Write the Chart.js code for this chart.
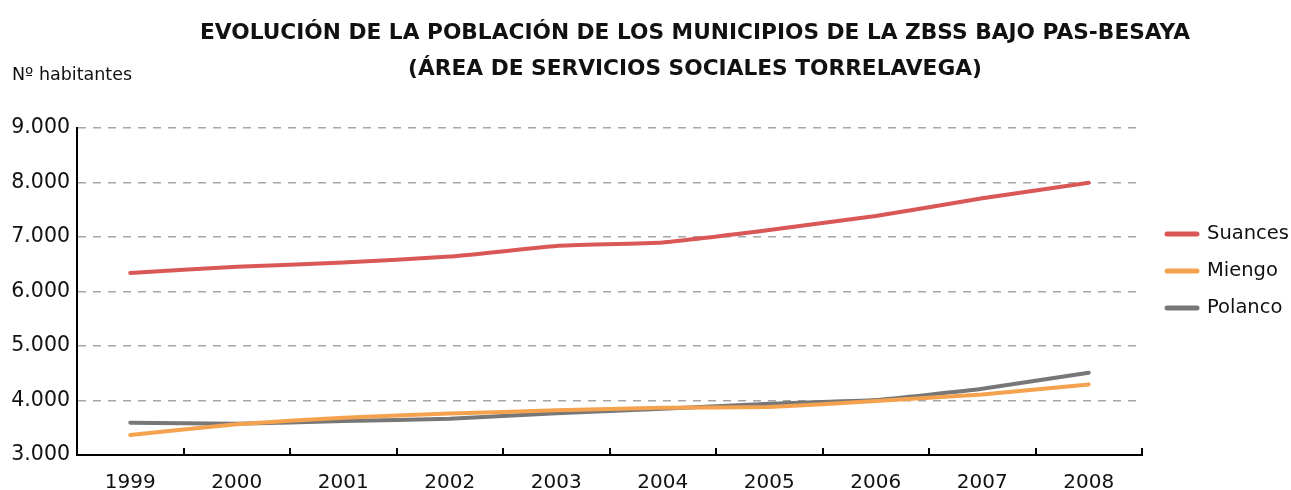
<!DOCTYPE html>
<html lang="es">
<head>
<meta charset="utf-8">
<title>Evolución de la población - ZBSS Bajo Pas-Besaya</title>
<script src="https://cdn.jsdelivr.net/npm/chart.js@4"></script>
<style>
    html, body { margin: 0; padding: 0; background: #fff; }
    #wrap { position: relative; width: 1291px; height: 490px; }
    #titulo {
        position: absolute; left: 180px; width: 1030px; top: 14px;
        text-align: center; font: bold 21.7px "DejaVu Sans", sans-serif;
        line-height: 36px; color: #111;
    }
    #unidad {
        position: absolute; left: 12px; top: 64px;
        font: 17.5px "DejaVu Sans", sans-serif; color: #111;
    }
</style>
</head>
<body>
<div id="wrap">
    <canvas id="poblacionChart" width="1291" height="490"></canvas>
    <div id="titulo">EVOLUCIÓN DE LA POBLACIÓN DE LOS MUNICIPIOS DE LA ZBSS BAJO PAS-BESAYA<br>(ÁREA DE SERVICIOS SOCIALES TORRELAVEGA)</div>
    <div id="unidad">Nº habitantes</div>
</div>
<script>
const years = ['1999', '2000', '2001', '2002', '2003', '2004', '2005', '2006', '2007', '2008'];
const suances = [6340, 6455, 6530, 6640, 6835, 6900, 7130, 7385, 7710, 7995];
const miengo = [3367, 3563, 3685, 3760, 3820, 3868, 3880, 3990, 4112, 4295];
const polanco = [3594, 3575, 3623, 3667, 3765, 3850, 3940, 4008, 4216, 4510];
const yTicks = [3000, 4000, 5000, 6000, 7000, 8000, 9000];

const FONT = '"DejaVu Sans", sans-serif';

function miles(v) {
    return String(v).replace(/\B(?=(\d{3})+$)/g, '.');
}

// small ticks between years, pointing up into the plot
const innerTicks = {
    id: 'innerTicks',
    afterDraw(chart) {
        const x = chart.scales.x;
        const ctx = chart.ctx;
        const bottom = chart.chartArea.bottom;
        ctx.save();
        ctx.strokeStyle = '#000';
        ctx.lineWidth = 2;
        for (let i = 1; i <= years.length; i++) {
            const px = Math.round(x.getPixelForValue(i - 0.5));
            ctx.beginPath();
            ctx.moveTo(px, bottom);
            ctx.lineTo(px, bottom - 7);
            ctx.stroke();
        }
        ctx.restore();
    }
};

// legend on the right
const sideLegend = {
    id: 'sideLegend',
    afterDraw(chart) {
        const ctx = chart.ctx;
        ctx.save();
        ctx.font = '19.5px ' + FONT;
        ctx.textBaseline = 'middle';
        chart.data.datasets.forEach((ds, i) => {
            const y = 234 + i * 37;
            ctx.strokeStyle = ds.borderColor;
            ctx.lineWidth = 5;
            ctx.lineCap = 'round';
            ctx.beginPath();
            ctx.moveTo(1167, y);
            ctx.lineTo(1197, y);
            ctx.stroke();
            ctx.fillStyle = '#111';
            ctx.fillText(ds.label, 1207, y);
        });
        ctx.restore();
    }
};

const lineStyle = {
    borderWidth: 4,
    borderCapStyle: 'round',
    pointRadius: 0,
    tension: 0.12,
    fill: false
};

new Chart(document.getElementById('poblacionChart'), {
    type: 'line',
    data: {
        labels: years,
        datasets: [
            { label: 'Suances', data: suances, borderColor: '#d95757', ...lineStyle },
            { label: 'Miengo', data: miengo, borderColor: '#f5a24f', ...lineStyle },
            { label: 'Polanco', data: polanco, borderColor: '#777777', ...lineStyle }
        ]
    },
    options: {
        responsive: false,
        animation: false,
        layout: { padding: { left: 0, right: 149, top: 128, bottom: 0 } },
        plugins: {
            legend: { display: false },
            title: { display: false },
            tooltip: { enabled: false }
        },
        scales: {
            x: {
                offset: true,
                grid: { display: false, offset: true },
                border: { color: '#000', width: 2 },
                ticks: { color: '#111', font: { family: FONT, size: 20 }, padding: 8, maxRotation: 0 },
                afterFit(scale) { scale.height = 35; }
            },
            y: {
                min: 3000,
                max: 9000,
                afterBuildTicks(scale) { scale.ticks = yTicks.map(v => ({ value: v })); },
                grid: { color: '#a6a6a6', lineWidth: 1.5, drawTicks: false },
                border: { color: '#000', width: 2, dash: [8, 7] },
                ticks: { color: '#111', font: { family: FONT, size: 20.5 }, padding: 7, callback: v => miles(v) },
                afterFit(scale) { scale.width = 77; }
            }
        }
    },
    plugins: [innerTicks, sideLegend]
});
</script>
</body>
</html>
